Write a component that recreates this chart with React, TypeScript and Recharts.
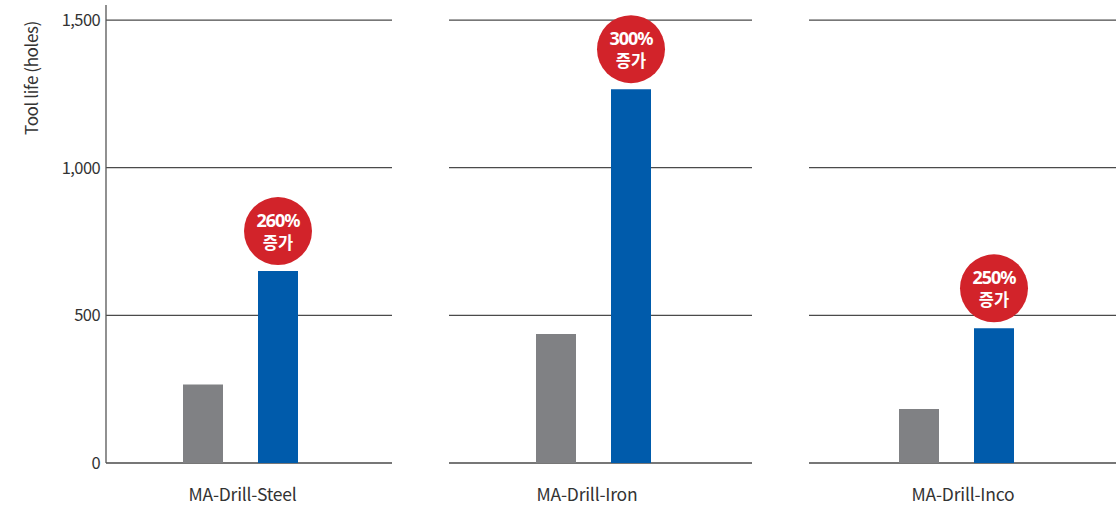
import React from 'react';
import { BarChart, Bar, XAxis, YAxis, CartesianGrid, LabelList } from 'recharts';

const categories = ['MA-Drill-Steel', 'MA-Drill-Iron', 'MA-Drill-Inco'];
const conventional = [266, 437, 183];
const maDrill = [650, 1266, 456];
const increaseLabels = ['260%', '300%', '250%'];
const yTicks = [0, 500, 1000, 1500];

const FONT = '"Noto Sans CJK KR", "Noto Sans", sans-serif';
const GRAY = '#808184';
const BLUE = '#005bab';
const RED = '#d2232a';
const LINE = '#4a4a4a';

const panels = [
  { left: 0, width: 392, padRight: 17, labelDx: 2, showY: true },
  { left: 449, width: 303, padRight: 15, labelDx: -6, showY: false },
  { left: 809, width: 307, padRight: 12, labelDx: 6.5, showY: false },
];

const Badge = (props: any) => {
  const { x, y, width, value } = props;
  const cx = x + width / 2;
  const cy = y - 40;
  return (
    <g>
      <circle cx={cx} cy={cy} r={34} fill={RED} />
      <text x={cx} y={cy - 4} textAnchor="middle" fill="#fff" fontFamily='"Noto Sans", sans-serif' fontWeight={700} fontSize={18} letterSpacing={-1}>
        {value}
      </text>
      <text x={cx} y={cy + 18} textAnchor="middle" fill="#fff" fontFamily={FONT} fontWeight={700} fontSize={16.5}>
        증가
      </text>
    </g>
  );
};

const makeTick = (dx: number) => (props: any) => {
  const { x, y, payload } = props;
  return (
    <text x={x + dx} y={y + 30} textAnchor="middle" fill="#333" fontFamily={FONT} fontSize={17.5} letterSpacing={-0.2}>
      {payload.value}
    </text>
  );
};

const YLabel = (props: any) => {
  const vb = props.viewBox || {};
  const lx = (vb.x ?? 0) + 38;
  const ly = (vb.y ?? 0) + 73;
  return (
    <text x={lx} y={ly} transform={`rotate(-90 ${lx} ${ly})`} textAnchor="middle" fill="#333" fontFamily={FONT} fontSize={17} letterSpacing={-0.4}>
      Tool life  (holes)
    </text>
  );
};

export default function App() {
  return (
    <div style={{ position: 'absolute', left: 0, top: 0, width: 1119, height: 505, background: '#fff' }}>
      {panels.map((p, i) => {
        const data = [{ name: categories[i], conv: conventional[i], ma: maDrill[i], inc: increaseLabels[i] }];
        return (
          <div key={i} style={{ position: 'absolute', left: p.left, top: 0 }}>
            <BarChart width={p.width} height={505} data={data} margin={{ top: 5, right: 0, bottom: 0, left: 0 }} barGap={35}>
              <CartesianGrid vertical={false} horizontalValues={yTicks} stroke={LINE} strokeWidth={1.3} />
              <XAxis
                dataKey="name"
                axisLine={false}
                tickLine={false}
                height={42}
                padding={{ left: 0, right: p.padRight }}
                tick={makeTick(p.labelDx)}
                interval={0}
              />
              <YAxis
                hide={!p.showY}
                width={106}
                domain={[0, 1551]}
                ticks={yTicks}
                allowDataOverflow
                axisLine={{ stroke: '#555', strokeWidth: 1.3 }}
                tickLine={false}
                tickMargin={0}
                tickFormatter={(v: number) => v.toLocaleString('en-US')}
                tick={{ fill: '#333', fontSize: 16.5, fontFamily: FONT, letterSpacing: -0.6 }}
                label={p.showY ? <YLabel /> : undefined}
              />
              <Bar dataKey="conv" fill={GRAY} barSize={40} isAnimationActive={false} />
              <Bar dataKey="ma" fill={BLUE} barSize={40} isAnimationActive={false}>
                <LabelList dataKey="inc" content={<Badge />} />
              </Bar>
            </BarChart>
          </div>
        );
      })}
    </div>
  );
}
